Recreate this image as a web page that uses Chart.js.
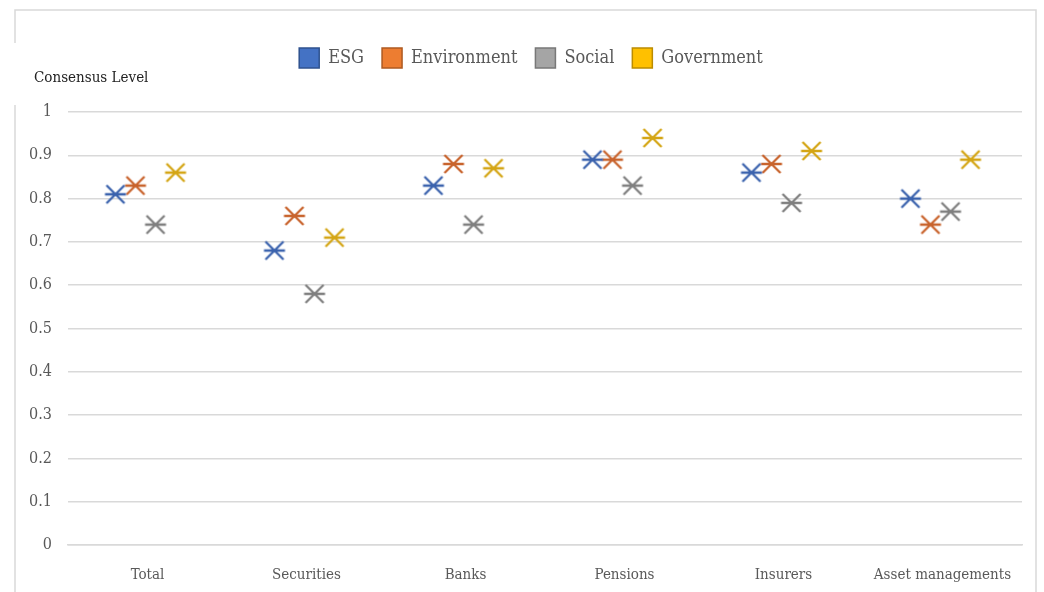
<!DOCTYPE html>
<html>
<head>
<meta charset="utf-8">
<script src="https://cdn.jsdelivr.net/npm/chart.js@4/dist/chart.umd.min.js"></script>
<style>
  html, body { margin: 0; padding: 0; background: #fff; }
  #wrap { width: 1044px; height: 592px; position: relative; }
</style>
</head>
<body>
<div id="wrap"><canvas id="chart"></canvas></div>
<script>
const categories = ["Total", "Securities", "Banks", "Pensions", "Insurers", "Asset managements"]
const seriesNames = ["ESG", "Environment", "Social", "Government"]
const esg = [0.81, 0.68, 0.83, 0.89, 0.86, 0.80]
const environment = [0.83, 0.76, 0.88, 0.89, 0.88, 0.74]
const social = [0.74, 0.58, 0.74, 0.83, 0.79, 0.77]
const government = [0.86, 0.71, 0.87, 0.94, 0.91, 0.89]
const yTicks = [0, 0.1, 0.2, 0.3, 0.4, 0.5, 0.6, 0.7, 0.8, 0.9, 1]

const fillColors = ["#4472C4", "#ED7D31", "#A5A5A5", "#FFC000"]
const edgeColors = ["#2F528F", "#AE5A21", "#787878", "#BC8C00"]
const markColors = ["#3A62AD", "#C8632C", "#7F7F7F", "#D4A514"]
const FONT = "'DejaVu Serif Condensed', 'Liberation Serif', serif"

// six-armed star like Excel's marker
function starMarker(color) {
  const c = document.createElement("canvas")
  c.width = 24
  c.height = 24
  const g = c.getContext("2d")
  g.strokeStyle = color
  g.lineWidth = 2.3
  g.beginPath()
  g.moveTo(1.5, 12); g.lineTo(22.5, 12)
  g.moveTo(3, 3); g.lineTo(21, 21)
  g.moveTo(3, 21); g.lineTo(21, 3)
  g.stroke()
  return c
}

// slot offsets inside each category (like clustered columns)
const slot = 0.126
const allSeries = [esg, environment, social, government]
const datasets = allSeries.map((vals, k) => ({
  label: seriesNames[k],
  data: vals.map((v, i) => ({ x: i + (k - 1.6) * slot, y: v })),
  backgroundColor: fillColors[k],
  borderColor: edgeColors[k],
  borderWidth: 1.5,
  pointStyle: starMarker(markColors[k]),
  pointRadius: 10,
  pointHoverRadius: 10,
  showLine: false
}))

const framePlugin = {
  id: "frame",
  beforeDraw(chart) {
    const g = chart.ctx
    g.save()
    g.strokeStyle = "#D9D9D9"
    g.lineWidth = 1.5
    g.beginPath()
    g.moveTo(15, 43); g.lineTo(15, 10); g.lineTo(1036, 10); g.lineTo(1036, 592)
    g.moveTo(15, 105); g.lineTo(15, 592)
    g.stroke()
    g.fillStyle = "#222"
    g.font = "15px " + FONT
    g.textBaseline = "middle"
    g.fillText("Consensus Level", 34, 78)
    g.restore()
  }
}

// fixed legend height, and nudge it right like the original
const legendBox = {
  id: "legendBox",
  beforeInit(chart) {
    const fit = chart.legend.fit
    chart.legend.fit = function () {
      fit.bind(chart.legend)()
      this.height = 82
    }
  },
  afterLayout(chart) {
    chart.legend.left += 10
    chart.legend.right += 10
  }
}

new Chart(document.getElementById("chart"), {
  type: "scatter",
  data: { datasets },
  plugins: [framePlugin, legendBox],
  options: {
    responsive: true,
    maintainAspectRatio: false,
    animation: false,
    layout: { padding: { top: 30, right: 22, left: 20, bottom: 0 } },
    plugins: {
      legend: {
        position: "top",
        labels: {
          boxWidth: 20,
          boxHeight: 20,
          padding: 18,
          color: "#595959",
          font: { family: FONT, size: 18 }
        }
      },
      tooltip: { enabled: false }
    },
    scales: {
      x: {
        type: "linear",
        min: -0.5,
        max: categories.length - 0.5,
        afterBuildTicks(scale) {
          scale.ticks = categories.map((_, i) => ({ value: i }))
        },
        afterFit(scale) { scale.height = 47 },
        grid: { display: false },
        border: { color: "#D9D9D9", width: 1.5 },
        ticks: {
          padding: 13,
          color: "#595959",
          font: { family: FONT, size: 15 },
          callback: (v) => categories[v]
        }
      },
      y: {
        min: 0,
        max: 1,
        afterBuildTicks(scale) {
          scale.ticks = yTicks.map(v => ({ value: v }))
        },
        afterFit(scale) { scale.width = 48 },
        grid: { color: "#D9D9D9", lineWidth: 1.5, drawTicks: false },
        border: { display: false },
        ticks: {
          padding: 16,
          color: "#595959",
          font: { family: FONT, size: 16 },
          callback: (v) => String(v)
        }
      }
    }
  }
})
</script>
</body>
</html>
